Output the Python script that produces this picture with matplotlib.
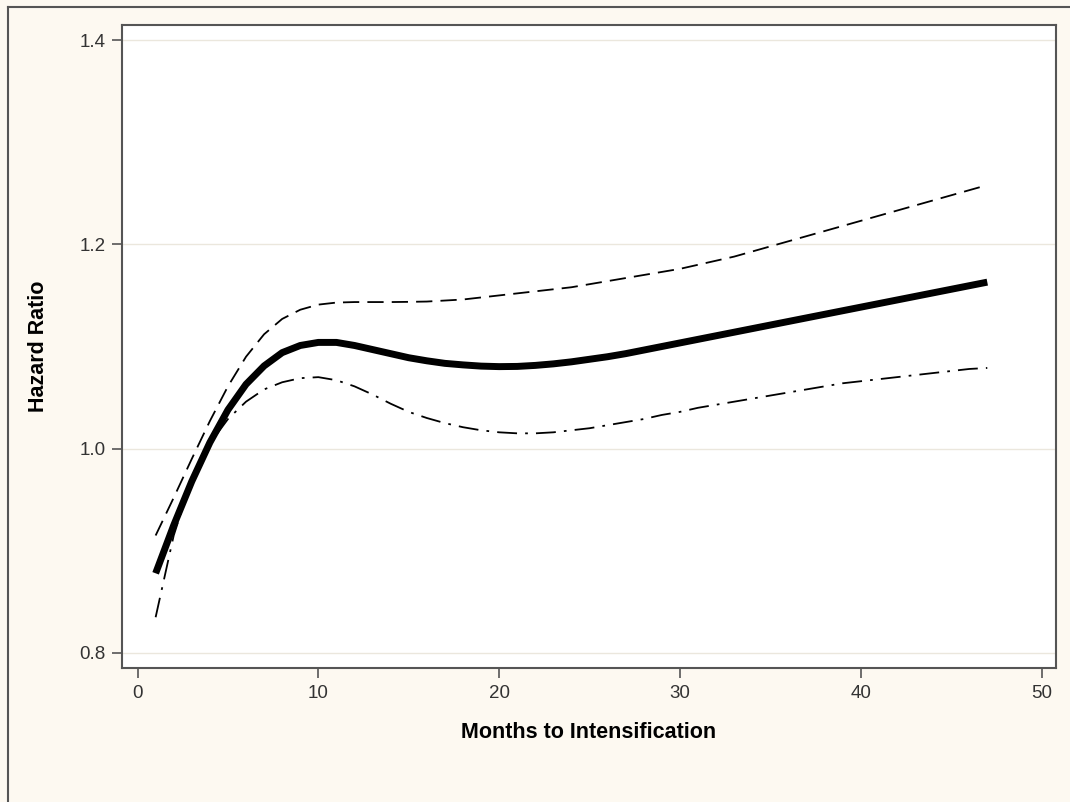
import matplotlib
matplotlib.use("Agg")
import matplotlib.pyplot as plt
from matplotlib.lines import Line2D

# months to intensification
months = list(range(1, 48))

# hazard ratio estimate
hr = [0.878, 0.925, 0.968, 1.006, 1.038, 1.063, 1.081, 1.094, 1.101, 1.104,
      1.104, 1.101, 1.097, 1.093, 1.089, 1.086, 1.0835, 1.082, 1.0808, 1.0803,
      1.0805, 1.0815, 1.083, 1.085, 1.0875, 1.090, 1.093, 1.0965, 1.100, 1.1035,
      1.107, 1.1105, 1.114, 1.1175, 1.121, 1.1245, 1.128, 1.1315, 1.135, 1.1385,
      1.142, 1.1455, 1.149, 1.1525, 1.156, 1.1595, 1.163]

# upper confidence limit
upper = [0.915, 0.952, 0.990, 1.027, 1.061, 1.090, 1.112, 1.127, 1.136, 1.141,
         1.143, 1.1435, 1.1435, 1.1435, 1.1437, 1.144, 1.145, 1.146, 1.148, 1.150,
         1.152, 1.154, 1.156, 1.158, 1.161, 1.164, 1.167, 1.170, 1.173, 1.176,
         1.180, 1.184, 1.188, 1.193, 1.198, 1.203, 1.208, 1.213, 1.218, 1.223,
         1.228, 1.233, 1.238, 1.243, 1.248, 1.253, 1.258]

# lower confidence limit
lower = [0.835, 0.915, 0.970, 1.005, 1.029, 1.046, 1.058, 1.065, 1.069, 1.070,
         1.067, 1.061, 1.053, 1.044, 1.036, 1.030, 1.025, 1.021, 1.018, 1.016,
         1.015, 1.015, 1.016, 1.018, 1.020, 1.023, 1.026, 1.029, 1.033, 1.036,
         1.040, 1.043, 1.046, 1.049, 1.052, 1.055, 1.058, 1.061, 1.064, 1.066,
         1.068, 1.070, 1.072, 1.074, 1.076, 1.078, 1.079]

x_ticks = [0, 10, 20, 30, 40, 50]
y_ticks = [0.8, 1.0, 1.2, 1.4]
y_tick_labels = ["0.8", "1.0", "1.2", "1.4"]

plt.rcParams["font.family"] = ["Liberation Sans", "DejaVu Sans"]

bg = "#fdf9f1"
fig = plt.figure(figsize=(10.70, 8.02), dpi=100, facecolor=bg)

# outer frame (left and top edges visible)
W, H = 1070, 802
fig.add_artist(Line2D([8 / W, 8 / W], [0, 1 - 7 / H], color="#555555", lw=1.5))
fig.add_artist(Line2D([8 / W, 1], [1 - 7 / H, 1 - 7 / H], color="#555555", lw=1.5))

ax = fig.add_axes([122 / W, 1 - 668 / H, (1056 - 122) / W, (668 - 25) / H])
ax.set_facecolor("white")

for y in y_ticks:
    ax.axhline(y, color="#ebe7dd", lw=1.0, zorder=0)

ax.plot(months, upper, color="black", lw=1.3, dashes=(9, 4.5))
ax.plot(months, lower, color="black", lw=1.3, dashes=(11, 4.5, 1.5, 4.5))
ax.plot(months, hr, color="black", lw=5.0, solid_capstyle="butt",
        solid_joinstyle="round")

ax.set_xlim(-0.86, 50.8)
ax.set_ylim(0.7853, 1.4147)
ax.set_xticks(x_ticks)
ax.set_yticks(y_ticks)
ax.set_yticklabels(y_tick_labels)

for s in ax.spines.values():
    s.set_color("#555555")
    s.set_linewidth(1.5)

ax.tick_params(axis="both", direction="out", length=7, width=1.2,
               color="#555555", labelsize=13.5, labelcolor="#333333", pad=5)

ax.set_xlabel("Months to Intensification", fontsize=15.5, fontweight="bold",
              labelpad=15)
ax.set_ylabel("Hazard Ratio", fontsize=15.5, fontweight="bold", labelpad=22)

fig.savefig("out.png", dpi=100, facecolor=bg)
plt.close(fig)
